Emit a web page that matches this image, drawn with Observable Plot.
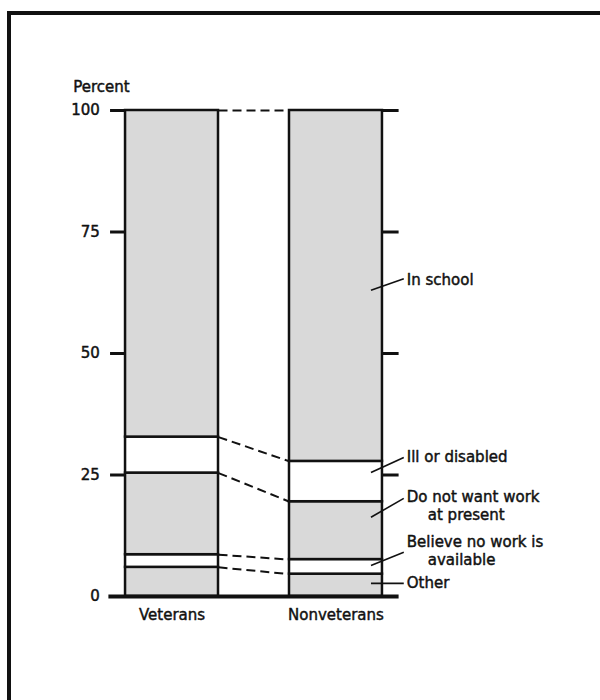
<!DOCTYPE html>
<html><head><meta charset="utf-8">
<script src="https://cdn.jsdelivr.net/npm/d3@7"></script>
<script src="https://cdn.jsdelivr.net/npm/@observablehq/plot@0.6"></script>
<style>
html,body{margin:0;padding:0;background:#fff;}
#wrap{position:relative;width:600px;height:700px;overflow:hidden;}
#chart{position:absolute;left:0;top:0;}
#frame{position:absolute;left:7px;top:11px;width:700px;height:800px;border-left:4px solid #111;border-top:4px solid #111;pointer-events:none;}
</style></head><body>
<div id="wrap"><div id="chart"></div><div id="frame"></div></div>
<script>
// ---- data ----
const categories = ["Veterans", "Nonveterans"];
const reasons = ["Other", "Believe no work is available", "Do not want work at present", "Ill or disabled", "In school"];
const veterans = [6.0, 2.6, 16.8, 7.4, 67.2];
const nonveterans = [4.6, 3.0, 11.9, 8.3, 72.2];
const yTicks = [0, 25, 50, 75, 100];
const labelLines = [["Other"], ["Believe no work is", "available"], ["Do not want work", "at present"], ["Ill or disabled"], ["In school"]];
// annotation anchor positions (percent units)
const leaderFrom = [2.7, 6.4, 16.3, 25.5, 63.0];
const leaderTo = [2.7, 9.1, 20.2, 28.6, 65.4];
const labelAt = [2.7, 11.1, 20.4, 28.6, 65.0];

// ---- styles ----
const FILLS = ["#d9d9d9", "#ffffff", "#d9d9d9", "#ffffff", "#d9d9d9"];
const INK = "#111";
const H = 0.2835, X0 = -0.385, X1 = 1.385;
const TXT = {fill: INK, stroke: INK, strokeWidth: 0.45};

const series = [veterans, nonveterans];
const rows = [];
series.forEach((vals, i) => {
  let c = 0;
  vals.forEach((v, j) => {
    rows.push({i, cat: categories[i], reason: reasons[j], y1: c, y2: c + v, fill: FILLS[j]});
    c += v;
  });
});
const links = reasons.map((r, j) => ({
  y1: d3.sum(veterans.slice(0, j + 1)),
  y2: d3.sum(nonveterans.slice(0, j + 1))
}));
const idx = reasons.map((r, j) => j);

const chart = Plot.plot({
  width: 600, height: 700,
  marginLeft: 108.4, marginRight: 201.4, marginTop: 110, marginBottom: 104,
  style: {fontFamily: "DejaVu Sans", fontSize: "15px", color: INK, background: "transparent"},
  x: {domain: [X0, X1], axis: null},
  y: {domain: [0, 100], axis: null},
  color: {type: "identity"},
  marks: [
    Plot.link(links, {x1: () => H, x2: () => 1 - H, y1: "y1", y2: "y2", stroke: INK, strokeWidth: 2, strokeDasharray: "9,5"}),
    Plot.rectY(rows, {x1: d => d.i - H, x2: d => d.i + H, y1: "y1", y2: "y2", fill: "fill", stroke: INK, strokeWidth: 2.5}),
    Plot.ruleY([0], {stroke: INK, strokeWidth: 4}),
    Plot.ruleY(yTicks.filter(t => t > 0), {x1: () => X0 + 0.01, x2: () => -H, stroke: INK, strokeWidth: 3}),
    Plot.ruleY(yTicks.filter(t => t > 0), {x1: () => 1 + H, x2: () => X1, stroke: INK, strokeWidth: 3}),
    Plot.text(yTicks, {x: () => X0, y: d => d, text: d => String(d), dx: -9, textAnchor: "end", ...TXT}),
    Plot.text(categories, {x: (d, i) => i, y: () => 0, text: d => d, dy: 19, ...TXT}),
    Plot.text(["Percent"], {frameAnchor: "top-left", dx: -35.7, dy: -23, textAnchor: "start", lineAnchor: "middle", ...TXT}),
    Plot.link(idx, {x1: () => 1 + H - 0.07, x2: () => 1 + H + 0.13, y1: j => leaderFrom[j], y2: j => leaderTo[j], stroke: INK, strokeWidth: 1.6}),
    Plot.text(idx, {x: () => 1 + H + 0.13, y: j => labelAt[j], text: j => labelLines[j][0], textAnchor: "start", dx: 3, ...TXT}),
    Plot.text(idx.filter(j => labelLines[j].length > 1), {x: () => 1 + H + 0.13, y: j => labelAt[j], text: j => labelLines[j][1], textAnchor: "start", dx: 24, dy: 18, ...TXT})
  ]
});
document.getElementById("chart").appendChild(chart);
</script>
</body></html>
